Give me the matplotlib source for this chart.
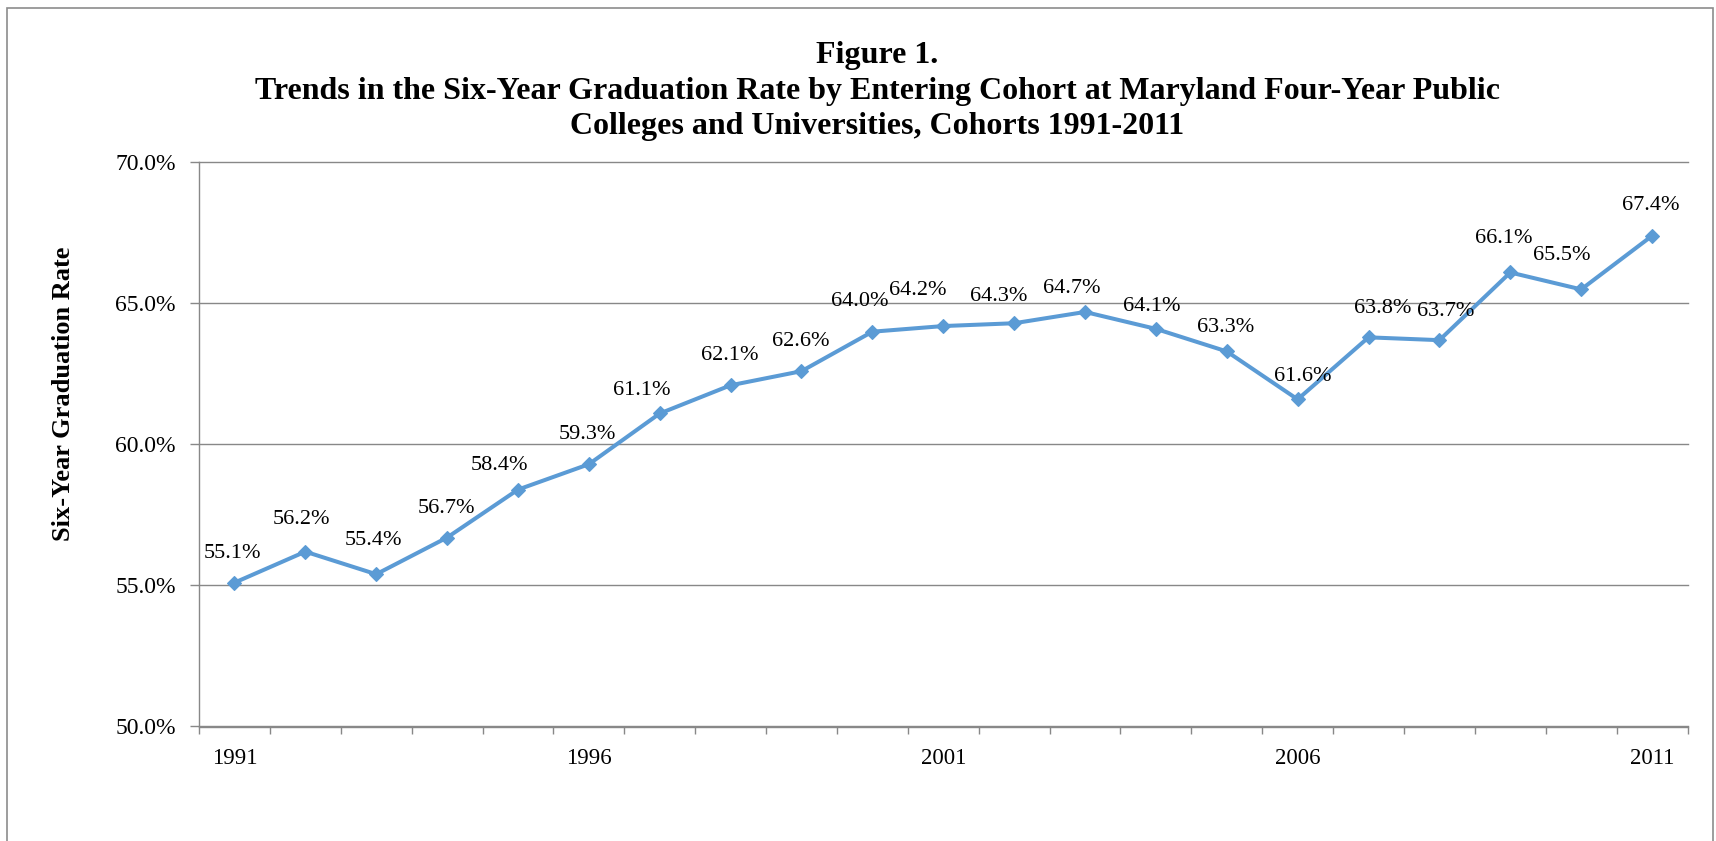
import matplotlib
matplotlib.use("Agg")
import matplotlib.pyplot as plt
from matplotlib.patches import Rectangle
from matplotlib.ticker import FixedLocator

# ---- data ----
years = list(range(1991, 2012))
rates = [55.1, 56.2, 55.4, 56.7, 58.4, 59.3, 61.1, 62.1, 62.6, 64.0, 64.2,
         64.3, 64.7, 64.1, 63.3, 61.6, 63.8, 63.7, 66.1, 65.5, 67.4]
tick_years = [1991, 1996, 2001, 2006, 2011]
y_ticks = [50, 55, 60, 65, 70]
title_lines = ["Figure 1.",
               "Trends in the Six-Year Graduation Rate by Entering Cohort at Maryland Four-Year Public",
               "Colleges and Universities, Cohorts 1991-2011"]
y_label = "Six-Year Graduation Rate"

# label placement offsets (pixels, relative to the point)
label_dx_px = [-2, -4, -3, -1, -19, -1, -18, -1, -1, -13, -26, -15, -13, -4, -1, 5, 14, 6, -7, -19, -1]
label_dy_px = [29, 32, 34, 29, 24, 30, 23, 30, 30, 30, 36, 27, 23, 22, 24, 23, 29, 29, 34, 34, 30]

# ---- style ----
W, H, DPI = 1716, 841, 100
LINE = "#5B9BD5"
GRID = "#888888"
plt.rcParams['font.family'] = ['Liberation Serif', 'DejaVu Serif']
px = 72.0 / DPI  # points per pixel

fig = plt.figure(figsize=(W / DPI, H / DPI), dpi=DPI)
fig.patch.set_facecolor("white")

left, right, top, bottom = 199, 1687.5, 162.5, 726.5
ax = fig.add_axes([left / W, 1 - bottom / H, (right - left) / W, (bottom - top) / H])

x = list(range(len(years)))
ax.plot(x, rates, color=LINE, lw=2.9, marker='D', ms=6.8, mfc=LINE, mec=LINE,
        mew=0.8, zorder=3, solid_joinstyle='round')

for xi, v, dx, dy in zip(x, rates, label_dx_px, label_dy_px):
    ax.annotate(f"{v:.1f}%", (xi, v), xytext=(dx * px, dy * px),
                textcoords='offset points', ha='center', va='center',
                fontsize=16, color='black', zorder=4)

ax.set_xlim(-0.5, len(years) - 0.5)
ax.set_ylim(min(y_ticks), max(y_ticks))

# y axis
ax.set_yticks(y_ticks)
ax.set_yticklabels([f"{v:.1f}%" for v in y_ticks])
ax.yaxis.grid(True, color=GRID, lw=1.0)
ax.set_axisbelow(True)
ax.tick_params(axis='y', length=8.7 * px, width=1.0, color=GRID,
               pad=14.6 * px, labelsize=17)

# x axis: category boundaries as minor ticks, labels at every fifth year
major_pos = [years.index(y) for y in tick_years]
ax.xaxis.set_major_locator(FixedLocator(major_pos))
ax.set_xticklabels([str(y) for y in tick_years])
ax.xaxis.set_minor_locator(FixedLocator([i - 0.5 for i in range(len(years) + 1)]))
ax.tick_params(axis='x', which='major', length=0, pad=21 * px, labelsize=16.5)
ax.tick_params(axis='x', which='minor', length=6.5 * px, width=1.0, color=GRID)

for s in ['top', 'right']:
    ax.spines[s].set_visible(False)
for s in ['left', 'bottom']:
    ax.spines[s].set_color(GRID)
    ax.spines[s].set_linewidth(1.0)

# keep the top (70%) gridline fully visible
for gl in ax.get_ygridlines():
    gl.set_clip_on(False)

# titles
fig.text(877 / W, 1 - 91 / H, "\n".join(title_lines), ha='center', va='center',
         fontsize=23, fontweight='bold', linespacing=1.31, multialignment='center')
fig.text(63.5 / W, 1 - 394 / H, y_label, rotation=90, ha='center', va='center',
         fontsize=19, fontweight='bold')

# outer chart frame
fig.patches.append(Rectangle((6.5 / W, -0.1), (1713 - 6.5) / W, 1.1 - 8.5 / H,
                             transform=fig.transFigure, fill=False,
                             edgecolor='#8c8c8c', lw=1.2))

fig.savefig("out.png", dpi=DPI, facecolor="white")
